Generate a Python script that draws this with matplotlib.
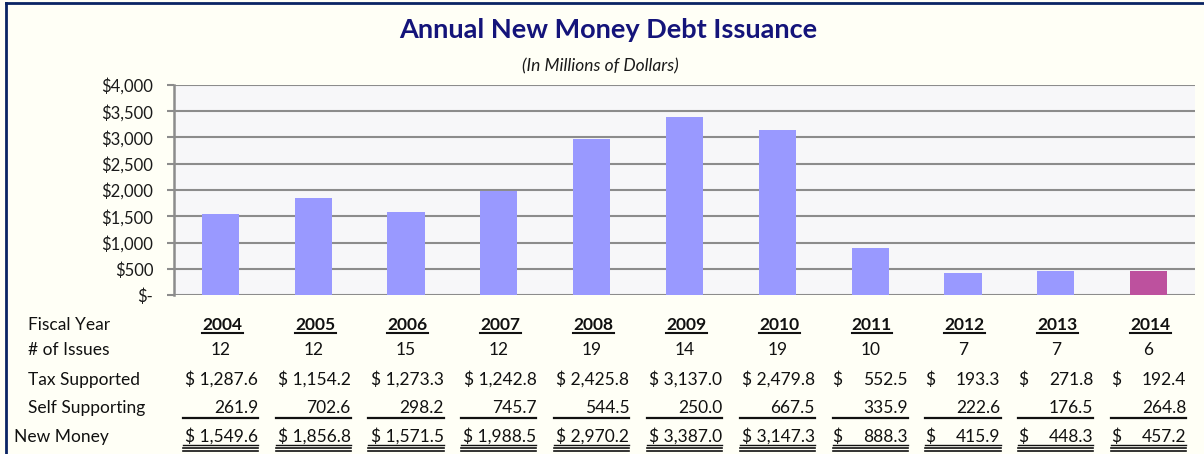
import matplotlib
matplotlib.use("Agg")
import matplotlib.pyplot as plt
import matplotlib.transforms as mtransforms
from matplotlib.lines import Line2D

years = ["2004", "2005", "2006", "2007", "2008", "2009", "2010", "2011", "2012", "2013", "2014"]
num_issues = [12, 12, 15, 12, 19, 14, 19, 10, 7, 7, 6]
tax_supported = [1287.6, 1154.2, 1273.3, 1242.8, 2425.8, 3137.0, 2479.8, 552.5, 193.3, 271.8, 192.4]
self_supporting = [261.9, 702.6, 298.2, 745.7, 544.5, 250.0, 667.5, 335.9, 222.6, 176.5, 264.8]
new_money = [1549.6, 1856.8, 1571.5, 1988.5, 2970.2, 3387.0, 3147.3, 888.3, 415.9, 448.3, 457.2]
yticks = [0, 500, 1000, 1500, 2000, 2500, 3000, 3500, 4000]
ytick_labels = ["$-", "$500", "$1,000", "$1,500", "$2,000", "$2,500", "$3,000", "$3,500", "$4,000"]

W, H = 1204, 454
plt.rcParams['font.family'] = ['Lato', 'DejaVu Sans']
fig = plt.figure(figsize=(W / 100, H / 100), dpi=100)
fig.patch.set_facecolor('#FFFFF6')

def fy(py):
    return 1 - py / H

def fx(px):
    return px / W

ax = fig.add_axes([fx(174), fy(295), fx(1195) - fx(174), fy(85) - fy(295)])
ax.set_facecolor('#F7F7F9')
x = list(range(len(years)))
colors = ['#9999FF'] * (len(years) - 1) + ['#BD519E']
ax.bar(x, new_money, width=0.4, color=colors, zorder=3)
ax.set_xlim(-0.5, len(years) - 0.5)
ax.set_ylim(0, 4000)
ax.set_yticks(yticks)
ax.set_yticklabels(ytick_labels, fontsize=12, color='#1A1A1A')
ax.set_xticks([])
ax.grid(axis='y', color='#8C8C8C', linewidth=1.5, zorder=1)
for s in ['top', 'right', 'bottom']:
    ax.spines[s].set_visible(False)
ax.spines['left'].set_color('#8C8C8C')
ax.spines['left'].set_linewidth(1.8)
ax.tick_params(axis='y', length=5, width=1.5, color='#8C8C8C', pad=10)

# Frame border
fig.add_artist(Line2D([fx(6), fx(6)], [fy(3), 0], transform=fig.transFigure, color='#0A2464', linewidth=2))
fig.add_artist(Line2D([fx(6), 1], [fy(3), fy(3)], transform=fig.transFigure, color='#0A2464', linewidth=2))

# Titles
fig.text(fx(608), fy(30), "Annual New Money Debt Issuance", ha='center', va='center',
         fontsize=19.5, fontweight='bold', color='#14147A')
fig.text(fx(600), fy(66), "(In Millions of Dollars)", ha='center', va='center',
         fontsize=12.5, style='italic', color='#1A1A1A')

# Table
tr = mtransforms.blended_transform_factory(ax.transData, fig.transFigure)
fs = 12.5
tc = '#111111'
base = {'year': 330, 'issues': 355, 'tax': 385, 'self': 413, 'new': 442}
fig.text(fx(28), fy(base['year']), "Fiscal Year", ha='left', va='baseline', fontsize=fs, color=tc)
fig.text(fx(28), fy(base['issues']), "# of Issues", ha='left', va='baseline', fontsize=fs, color=tc)
fig.text(fx(28), fy(base['tax']), "Tax Supported", ha='left', va='baseline', fontsize=fs, color=tc)
fig.text(fx(28), fy(base['self']), "Self Supporting", ha='left', va='baseline', fontsize=fs, color=tc)
fig.text(fx(14), fy(base['new']), "New Money", ha='left', va='baseline', fontsize=fs, color=tc)

half = 0.405
for i, yr in enumerate(years):
    fig.text(i + 0.02, fy(base['year']), yr, transform=tr, ha='center', va='baseline',
             fontsize=fs, fontweight='bold', color=tc)
    fig.add_artist(Line2D([i + 0.02 - 0.22, i + 0.02 + 0.22], [fy(332.5), fy(332.5)], transform=tr,
                          color=tc, linewidth=1.5))
    fig.text(i, fy(base['issues']), str(num_issues[i]), transform=tr, ha='center', va='baseline',
             fontsize=fs, color=tc)
    for key, vals in (('tax', tax_supported), ('new', new_money)):
        v = vals[i]
        s = f"{v:,.1f}"
        if v >= 1000:
            fig.text(i + half, fy(base[key]), "$ " + s, transform=tr, ha='right', va='baseline',
                     fontsize=fs, color=tc)
        else:
            fig.text(i - half, fy(base[key]), "$", transform=tr, ha='left', va='baseline',
                     fontsize=fs, color=tc)
            fig.text(i + half, fy(base[key]), s, transform=tr, ha='right', va='baseline',
                     fontsize=fs, color=tc)
    fig.text(i + half, fy(base['self']), f"{self_supporting[i]:,.1f}", transform=tr, ha='right',
             va='baseline', fontsize=fs, color=tc)
    fig.add_artist(Line2D([i - half, i + half], [fy(417.5), fy(417.5)], transform=tr,
                          color=tc, linewidth=1.6))
    fig.add_artist(Line2D([i - half, i + half], [fy(444.5), fy(444.5)], transform=tr,
                          color=tc, linewidth=1.0))
    fig.add_artist(Line2D([i - half, i + half], [fy(447.8), fy(447.8)], transform=tr,
                          color=tc, linewidth=1.2))
    fig.add_artist(Line2D([i - half, i + half], [fy(450.8), fy(450.8)], transform=tr,
                          color=tc, linewidth=1.2))

fig.savefig("out.png", dpi=100, facecolor=fig.get_facecolor())
